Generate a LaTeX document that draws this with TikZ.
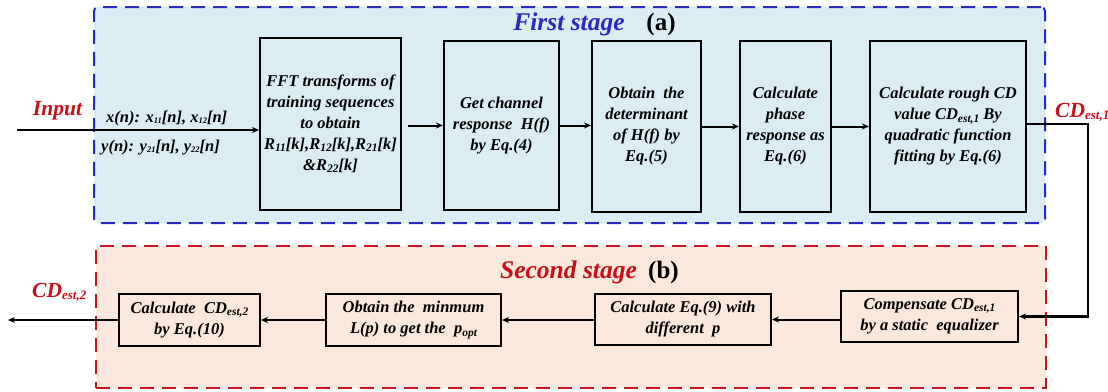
\documentclass[tikz,border=0pt]{standalone}
\usepackage{fontspec}
\setmainfont{Liberation Serif}
\usetikzlibrary{arrows.meta}

\definecolor{bluefill}{RGB}{219,236,242}
\definecolor{blueline}{RGB}{40,40,195}
\definecolor{redfill}{RGB}{251,232,220}
\definecolor{redline}{RGB}{200,20,30}
\definecolor{titleblue}{RGB}{45,40,190}
\definecolor{titlered}{RGB}{200,15,25}

% lowered small indices
\newcommand\lo[1]{\raisebox{-0.3ex}{\fontsize{11.5}{11.5}\selectfont #1}}
\newcommand\tlo[1]{\raisebox{-0.25ex}{\fontsize{8.5}{8.5}\selectfont #1}}
\newcommand\blo[1]{\raisebox{-0.3ex}{\fontsize{13}{13}\selectfont #1}}

\begin{document}
\begin{tikzpicture}[x=1pt,y=-1pt,
  blk/.style={draw=black, line width=2pt, align=center, inner sep=0pt,
    font=\fontsize{16.5}{21}\selectfont\bfseries\itshape},
  link/.style={draw=black, line width=2pt, -{Stealth[length=7pt,width=6pt]}},
  feedback/.style={draw=black, line width=2.2pt, -{Stealth[length=7pt,width=6pt]}},
  stageA/.style={draw=blueline, fill=bluefill, line width=2pt,
    dash pattern=on 14pt off 8pt, rounded corners=4pt, inner sep=0pt},
  stageB/.style={draw=redline, fill=redfill, line width=2pt,
    dash pattern=on 14pt off 8pt, inner sep=0pt},
  lbl/.style={inner sep=0pt, font=\fontsize{16.5}{21}\selectfont\bfseries\itshape},
  ttl/.style={inner sep=0pt, anchor=base, font=\fontsize{25.5}{30}\selectfont\bfseries\itshape},
  tag/.style={inner sep=0pt, anchor=base, font=\fontsize{25}{28}\selectfont\bfseries\upshape},
  sig/.style={inner sep=0pt, text=titlered, font=\fontsize{21.5}{25}\selectfont\bfseries\itshape}]

\useasboundingbox (0,0) rectangle (1108,391);

% stage frames
\node[stageA, minimum width=951, minimum height=216] (sa) at (569.5,115) {};
\node[stageB, minimum width=950, minimum height=142] (sb) at (571,317) {};

% titles
\node[ttl, text=titleblue] (ta) at (569,30) {First stage};
\node[tag] (tan) at (661,30) {(a)};
\node[ttl, text=titlered] (tb) at (568.5,278) {Second stage};
\node[tag] (tbn) at (663.5,278) {(b)};

% first stage blocks
\node[blk, minimum width=141, minimum height=172] (b1) at (330.5,124)
  {FFT transforms of\\training sequences\\to obtain\\R\lo{11}[k],R\lo{12}[k],R\lo{21}[k]\\\&R\lo{22}[k]};
\node[blk, minimum width=115, minimum height=169] (b2) at (501.5,125.5)
  {Get channel\\response\ \ H(f)\\by Eq.(4)};
\node[blk, minimum width=109, minimum height=171] (b3) at (646.5,126.5)
  {Obtain\ \ the\\determinant\\of H(f) by\\Eq.(5)};
\node[blk, minimum width=91, minimum height=171] (b4) at (785.5,126.5)
  {Calculate\\phase\\response as\\Eq.(6)};
\node[blk, minimum width=156, minimum height=171] (b5) at (948,126.5)
  {Calculate rough CD\\value CD\lo{est,1} By\\quadratic function\\fitting by Eq.(6)};

% second stage blocks
\node[blk, minimum width=177, minimum height=51] (b6) at (929.5,316.5)
  {Compensate CD\lo{est,1}\\by a static\ \ equalizer};
\node[blk, minimum width=176, minimum height=51] (b7) at (683,319.5)
  {Calculate Eq.(9) with\\different\ \ p};
\node[blk, minimum width=175, minimum height=52] (b8) at (413.5,320)
  {Obtain the\ \ minmum\\L(p) to get the\ \ p\lo{opt}};
\node[blk, minimum width=141, minimum height=52] (b9) at (189.5,320)
  {Calculate\ \ CD\lo{est,2}\\by Eq.(10)};

% signal labels
\node[sig, anchor=base] (inp) at (57.5,115) {Input};
\node[lbl, anchor=base west] (xs) at (106,122) {x(n): x\tlo{11}[n], x\tlo{12}[n]};
\node[lbl, anchor=base west] (ys) at (101,151) {y(n): y\tlo{21}[n], y\tlo{22}[n]};
\node[sig, anchor=base west] (cd1) at (1055,117) {CD\blo{est,1}};
\node[sig, anchor=base west] (cd2) at (32,297) {CD\blo{est,2}};

% connectors
\coordinate (src) at (17,130);
\draw[link] (src) -- (src -| b1.west);
\path ([xshift=6pt]b1.east) coordinate (g1);
\draw[link] (g1 |- b2.west) -- (b2.west);
\draw[link] (b2.east) -- (b2.east -| b3.west);
\draw[link] (b3.east) -- (b3.east -| b4.west);
\draw[link] (b4.east) -- (b4.east -| b5.west);
\coordinate (k1) at (1088,124);
\draw[feedback] (b5.east |- k1) -- (k1) -- (k1 |- b6.east) -- (b6.east);
\draw[link] (b7.east -| b6.west) -- (b7.east);
\draw[link] (b8.east -| b7.west) -- (b8.east);
\draw[link] (b9.east -| b8.west) -- (b9.east);
\coordinate (out) at (8,320);
\draw[link] (b9.west) -- (out |- b9.west);
\end{tikzpicture}
\end{document}
